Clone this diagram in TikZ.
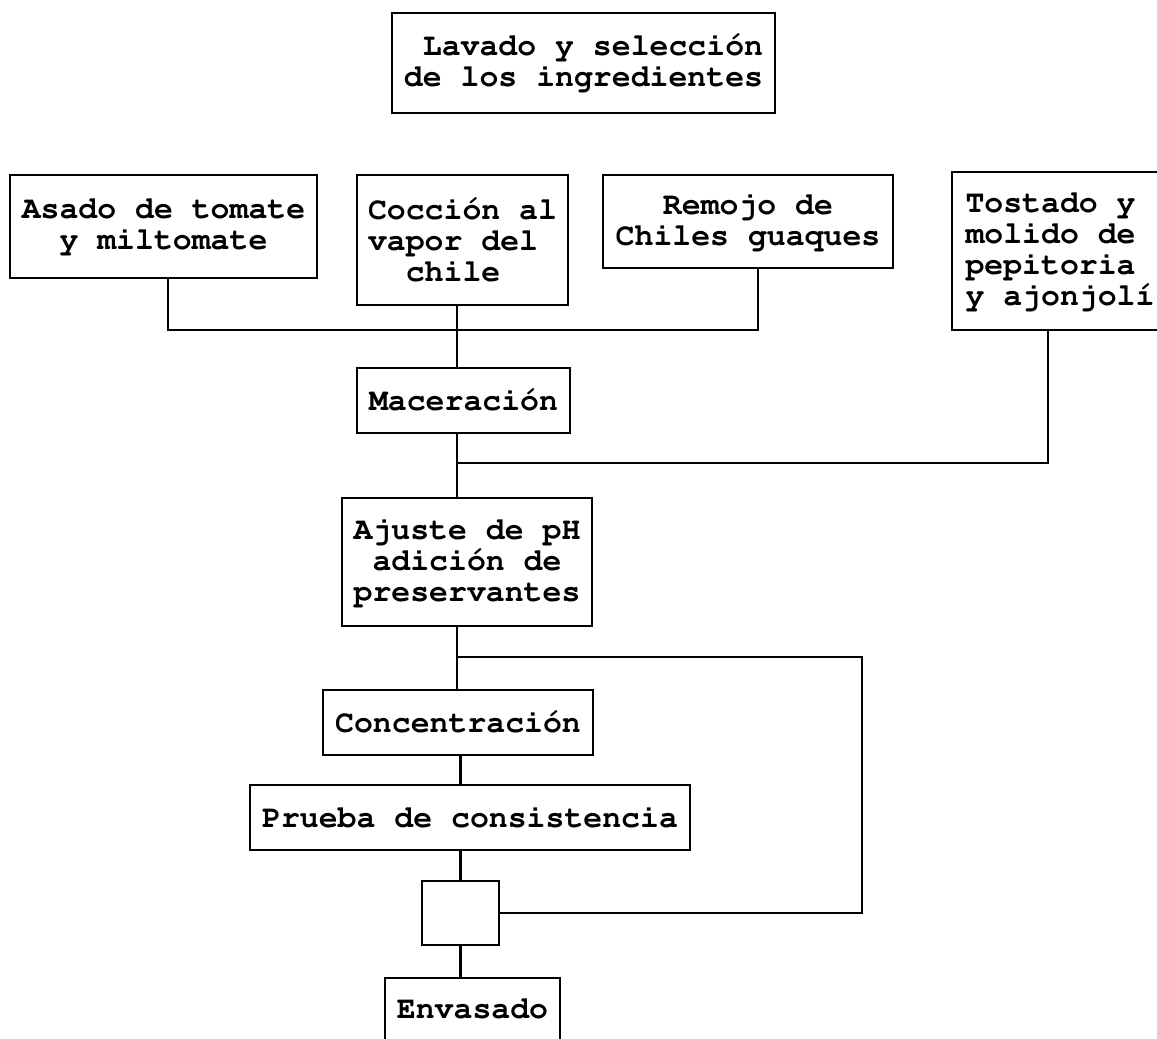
\documentclass[tikz,border=0pt]{standalone}
\usepackage[T1]{fontenc}
\newcommand{\cour}{\fontencoding{T1}\fontfamily{pcr}\fontseries{b}\fontsize{31.5}{31}\selectfont}
\begin{document}
\begin{tikzpicture}[x=1pt,y=-1pt,
  box/.style={draw,line width=2.4pt,rectangle,inner sep=0pt,font=\cour},
  link/.style={line width=2.4pt}]
\useasboundingbox (0,0) rectangle (1157,1039);
\node[box,minimum width=383pt,minimum height=100pt,align=right] (lav) at (583.5,63) {Lavado y selección\\de los ingredientes};
\node[box,minimum width=307pt,minimum height=103pt,align=center] (asado) at (163.5,226.5) {Asado de tomate\\y miltomate};
\node[box,minimum width=211pt,minimum height=130pt,align=left] (coc) at (462.5,240) {Cocción al\\vapor del\\\hphantom{xx}chile};
\node[box,minimum width=290pt,minimum height=93pt,align=center] (rem) at (748,221.5) {Remojo de\\Chiles guaques};
\node[box,minimum width=216pt,minimum height=158pt,align=left] (tos) at (1060,251) {Tostado y\\molido de\\pepitoria\\y ajonjolí};
\node[box,minimum width=213pt,minimum height=65pt] (mac) at (463.5,400.5) {Maceración};
\node[box,minimum width=250pt,minimum height=128pt,align=center] (aju) at (467,562) {Ajuste de pH\\adición de\\preservantes};
\node[box,minimum width=270pt,minimum height=65pt] (con) at (458,722.5) {Concentración};
\node[box,minimum width=440pt,minimum height=65pt] (pru) at (470,817.5) {Prueba de consistencia};
\node[box,minimum width=77pt,minimum height=64pt] (sq) at (460.5,913) {};
\node[box,minimum width=175pt,minimum height=62pt,anchor=north] (env) at (472.5,977) {Envasado};
\coordinate (t) at (457,0);
\coordinate (j1) at (457,330);
\coordinate (j2) at (457,463);
\coordinate (j3) at (457,657);
\coordinate (c1) at (862,657);
\draw[link] (168,0 |- asado.south) |- (j1) -| (758,0 |- rem.south);
\draw[link] (t |- coc.south) -- (t |- mac.north);
\draw[link] (t |- mac.south) -- (t |- aju.north);
\draw[link] (1048,0 |- tos.south) |- (j2);
\draw[link] (t |- aju.south) -- (t |- con.north);
\draw[link] (j3) -- (c1) |- (sq.east);
\draw[link] (con.south -| sq.north) -- (pru.north -| sq.north);
\draw[link] (pru.south -| sq.north) -- (sq.north);
\draw[link] (sq.south) -- (sq.south |- env.north);
\end{tikzpicture}
\end{document}
